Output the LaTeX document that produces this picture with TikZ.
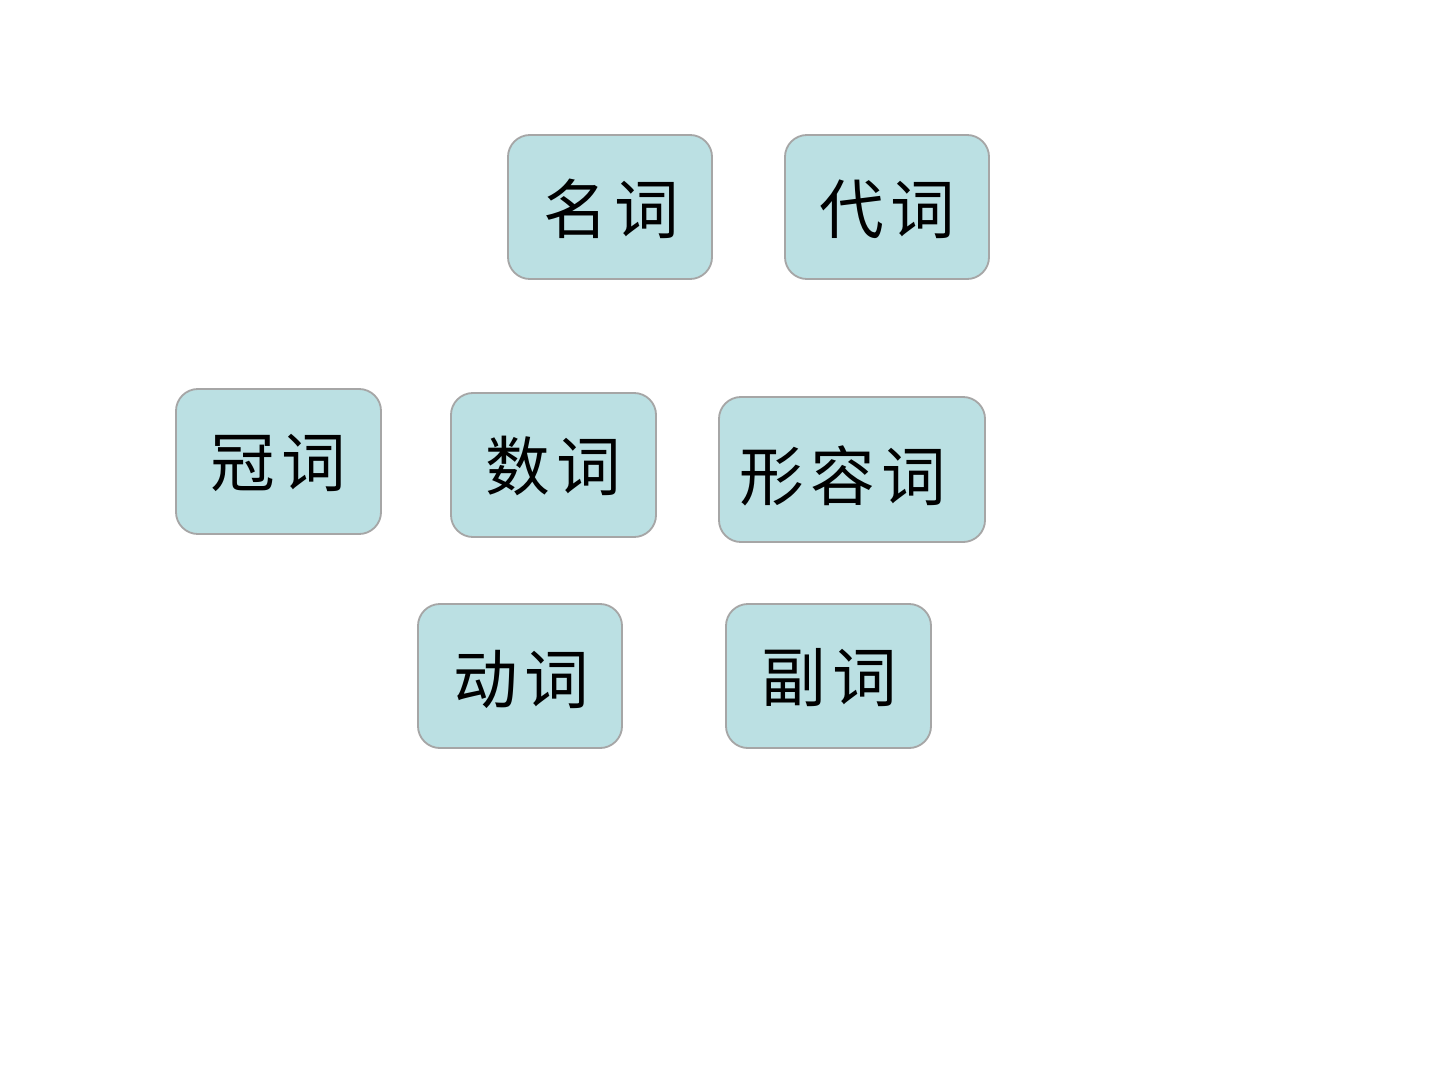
\documentclass[tikz,border=0pt]{standalone}
\usepackage{fontspec}
\newfontfamily\cjk{Noto Sans CJK SC}[LetterSpace=10]
\definecolor{boxfill}{HTML}{BBE0E3}
\definecolor{boxline}{HTML}{A6A6A6}
\begin{document}
\begin{tikzpicture}[x=0.025cm,y=-0.025cm,
  wbox/.style={draw=boxline,fill=boxfill,line width=1.3pt,rounded corners=0.55cm,inner sep=0pt},
  wtext/.style={font=\cjk\fontsize{46pt}{52pt}\selectfont,inner sep=0pt,text=black}]
\useasboundingbox[fill=white] (0,0) rectangle (1440,1080);
\node[wbox,minimum width=5.1cm,minimum height=3.6cm] (b1) at (610,207) {};
\node[wbox,minimum width=5.1cm,minimum height=3.6cm] (b2) at (887,207) {};
\node[wbox,minimum width=5.125cm,minimum height=3.625cm] (b3) at (278.5,461.5) {};
\node[wbox,minimum width=5.125cm,minimum height=3.6cm] (b4) at (553.5,465) {};
\node[wbox,minimum width=6.65cm,minimum height=3.625cm] (b5) at (852,469.5) {};
\node[wbox,minimum width=5.1cm,minimum height=3.6cm] (b6) at (520,676) {};
\node[wbox,minimum width=5.125cm,minimum height=3.6cm] (b7) at (828.5,676) {};
\node[wtext] (t1) at (611,209) {名词};
\node[wtext] (t2) at (887,209) {代词};
\node[wtext] (t3) at (278,463) {冠词};
\node[wtext] (t4) at (553,466) {数词};
\node[wtext] (t5) at (843,476) {形容词};
\node[wtext] (t6) at (521,679) {动词};
\node[wtext] (t7) at (829,678) {副词};
\end{tikzpicture}
\end{document}
